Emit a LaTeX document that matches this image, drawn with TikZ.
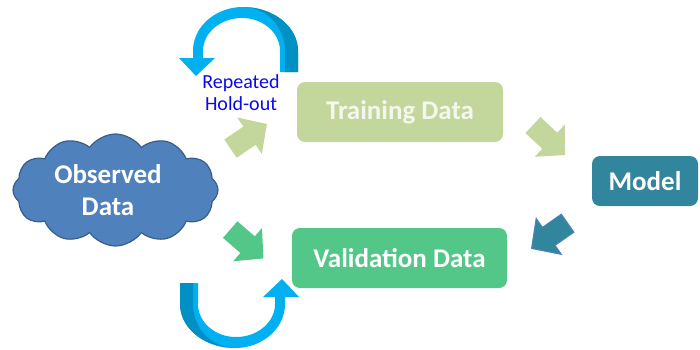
\documentclass[tikz,border=0pt]{standalone}
\usepackage{fontspec}
\setmainfont{Carlito}
\usetikzlibrary{shapes.symbols}
\definecolor{trainc}{RGB}{195,214,155}
\definecolor{traintext}{RGB}{244,247,238}
\definecolor{valc}{RGB}{82,199,136}
\definecolor{modc}{RGB}{49,133,156}
\definecolor{cloudc}{RGB}{79,129,189}
\definecolor{cloudb}{RGB}{56,93,138}
\definecolor{cyanl}{RGB}{0,176,240}
\definecolor{cyand}{RGB}{0,144,196}
\definecolor{holdc}{RGB}{10,10,230}
\tikzset{
  boxnode/.style={rounded corners=8pt, inner sep=0pt, text=white, font=\fontsize{27}{32}\selectfont\bfseries},
  pics/blockarrow/.style={code={\path[#1] (-22,-11) -- (1,-11) -- (1,-22) -- (22,0) -- (1,22) -- (1,11) -- (-22,11) -- cycle;}},
  pics/curvedarrow/.style={code={
    \fill[cyanl] (298,72) -- plot[domain=0:90,samples=30] ({243+55*cos(\x)},{51-44*sin(\x)})
      -- plot[domain=90:180,samples=30] ({243+50*cos(\x)},{51-44*sin(\x)})
      -- (193,58) -- (179,58) -- (196,76) -- (215,58) -- (203,58)
      -- plot[domain=180:90,samples=30] ({242+39*cos(\x)},{51-33*sin(\x)})
      -- plot[domain=90:0,samples=30] ({242+38*cos(\x)},{51-33*sin(\x)})
      -- (280,72) -- cycle;
    \fill[cyand] (298,72) -- plot[domain=0:90,samples=30] ({243+55*cos(\x)},{51-44*sin(\x)})
      -- plot[domain=90:0,samples=30] ({243+42*cos(\x)},{51-44*sin(\x)})
      -- (285,72) -- cycle;
  }},
}
\begin{document}
\begin{tikzpicture}[x=1pt,y=-1pt]
\useasboundingbox (0,0) rectangle (700,349);
\clip (0,0) rectangle (700,349);
% curved arrows
\pic (toparc) at (0,0) {curvedarrow};
\pic[rotate=180] (botarc) at (478,355) {curvedarrow};
% cloud
\node[cloud, cloud puffs=12, cloud puff arc=110, aspect=2, fill=cloudc, draw=cloudb,
      line width=1.2pt, minimum width=205pt, minimum height=112pt, inner sep=0pt] (obs) at (115.5,190) {};
\node[font=\fontsize{27}{32}\selectfont\bfseries, text=white, align=center] (obstext) at (108,190) {Observed\\Data};
% boxes
\node[boxnode, fill=trainc, text=traintext, minimum width=206pt, minimum height=60pt] (train) at (400,112) {Training Data};
\node[boxnode, fill=valc, minimum width=215pt, minimum height=60pt] (val) at (399.5,258) {Validation Data};
\node[boxnode, fill=modc, minimum width=106pt, minimum height=50pt] (model) at (645,181) {Model};
% label
\node[font=\fontsize{20}{22}\selectfont, text=holdc, align=center] (hold) at (241,93) {Repeated\\Hold-out};
% block arrows
\pic[rotate=34] (ar1) at (248.7,136.3) {blockarrow={fill=trainc}};
\pic[rotate=-41] (ar2) at (246.8,244) {blockarrow={fill=valc}};
\pic[rotate=-43] (ar3) at (549,140) {blockarrow={fill=trainc}};
\pic[rotate=-145] (ar4) at (549.6,235.8) {blockarrow={fill=modc, draw=cloudc, line width=1pt}};
\end{tikzpicture}
\end{document}
